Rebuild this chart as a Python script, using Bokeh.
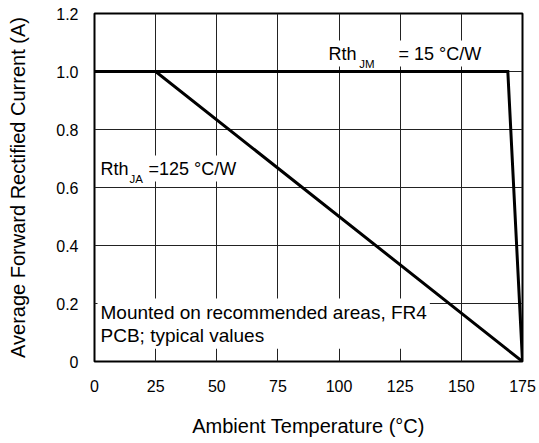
from bokeh.plotting import figure
from bokeh.models import Range1d, FixedTicker, Label
from bokeh.embed import file_html
from bokeh.resources import INLINE

# ---- data ----
x_ticks = [0, 25, 50, 75, 100, 125, 150, 175]
y_ticks = [0, 0.2, 0.4, 0.6, 0.8, 1.0, 1.2]
y_tick_labels = ["0", "0.2", "0.4", "0.6", "0.8", "1.0", "1.2"]

# Rth_JM = 15 C/W derating curve
temp_jm = [0, 169, 175]
current_jm = [1.0, 1.0, 0.0]
# Rth_JA = 125 C/W derating curve
temp_ja = [0, 25, 175]
current_ja = [1.0, 1.0, 0.0]

FONT = "Liberation Sans"

p = figure(width=538, height=443,
           x_range=Range1d(0, 175), y_range=Range1d(0, 1.2),
           output_backend="svg", toolbar_location=None,
           min_border_left=94, min_border_right=16,
           min_border_top=13, min_border_bottom=82)

p.background_fill_color = "white"
p.border_fill_color = "white"
p.outline_line_color = "black"
p.outline_line_width = 2

# axes
p.xaxis.ticker = FixedTicker(ticks=x_ticks)
p.yaxis.ticker = FixedTicker(ticks=y_ticks)
p.yaxis.major_label_overrides = {t: l for t, l in zip(y_ticks, y_tick_labels)}
for ax in (p.xaxis, p.yaxis):
    ax.axis_line_color = None
    ax.major_tick_line_color = None
    ax.minor_tick_line_color = None
    ax.major_tick_in = 0
    ax.major_tick_out = 0
    ax.major_label_text_font = FONT
    ax.major_label_text_font_size = "16px"
    ax.major_label_text_color = "black"
    ax.axis_label_text_font = FONT
    ax.axis_label_text_font_size = "20px"
    ax.axis_label_text_font_style = "normal"
    ax.axis_label_text_color = "black"

p.xaxis.axis_label = "Ambient Temperature (°C)"
p.yaxis.axis_label = "Average Forward Rectified Current (A)"
p.xaxis.major_label_standoff = 18
p.xaxis.axis_label_standoff = 20
p.yaxis.major_label_standoff = 16
p.yaxis.axis_label_standoff = 24

# grid
p.xgrid.ticker = FixedTicker(ticks=x_ticks)
p.ygrid.ticker = FixedTicker(ticks=y_ticks)
for g in (p.xgrid, p.ygrid):
    g.grid_line_color = "#222222"
    g.grid_line_width = 1

# curves
p.line(temp_ja, current_ja, line_color="black", line_width=3, line_join="miter")
p.line(temp_jm, current_jm, line_color="black", line_width=3, line_join="miter")

# annotations
def lab(x, y, text, size, baseline="bottom", pad=3, bg="white", lh=1.2):
    p.add_layout(Label(x=x, y=y, text=text, text_font=FONT, text_font_size=size,
                       text_color="black", text_align="left", text_baseline=baseline,
                       text_line_height=lh,
                       background_fill_color=bg,
                       border_line_color=None, padding=pad))

lab(94.45, 1.017, "Rth", "18px")
lab(108.3, 1.0066, "JM", "11.5px", pad=0, bg=None)
lab(123.1, 1.017, "= 15 °C/W", "18px")

lab(1.23, 0.6203, "Rth", "18px")
lab(14.3, 0.610, "JA", "11.5px", pad=0, bg=None)
lab(20.85, 0.6203, "=125 °C/W", "18px")

lab(1.23, 0.217, "Mounted on recommended areas, FR4\nPCB; typical values", "19px",
    baseline="top", pad=3, lh=1.1)

open("out.html", "w").write(file_html(p, INLINE))
